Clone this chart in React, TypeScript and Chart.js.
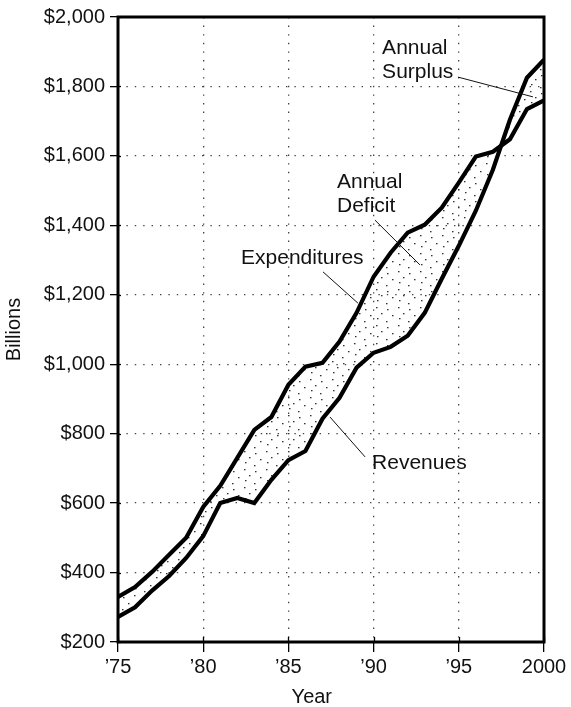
import React, { useEffect, useRef } from 'react';
import { Chart, registerables } from 'chart.js';

Chart.register(...registerables);

const years = [
  1975, 1976, 1977, 1978, 1979, 1980, 1981, 1982, 1983, 1984, 1985, 1986, 1987,
  1988, 1989, 1990, 1991, 1992, 1993, 1994, 1995, 1996, 1997, 1998, 1999, 2000,
];
const expenditures = [
  330, 358, 402, 451, 500, 589, 650, 730, 811, 848, 941, 993, 1004,
  1065, 1148, 1252, 1321, 1379, 1402, 1451, 1523, 1598, 1612, 1648, 1735, 1760,
];
const revenues = [
  272, 300, 348, 390, 442, 505, 600, 615, 600, 667, 724, 750, 843,
  903, 990, 1033, 1050, 1082, 1148, 1246, 1341, 1442, 1560, 1704, 1825, 1877,
];
const xTickValues = [1975, 1980, 1985, 1990, 1995, 2000];
const xTickLabels = ['\u201975', '\u201980', '\u201985', '\u201990', '\u201995', '2000'];
const yTickValues = [200, 400, 600, 800, 1000, 1200, 1400, 1600, 1800, 2000];
const yTickLabels = ['$200', '$400', '$600', '$800', '$1,000', '$1,200', '$1,400', '$1,600', '$1,800', '$2,000'];
const xTitle = 'Year';
const yTitle = 'Billions';

// annotation labels anchored in data coordinates (year, $ billions)
const annotationTexts = [['Annual', 'Surplus'], ['Annual', 'Deficit'], ['Expenditures'], ['Revenues']];
const annotationAnchors = [
  [1990.5, 1911],
  [1987.85, 1525],
  [1982.22, 1306],
  [1989.91, 715],
];
const annotationLeaders = [
  [1994.95, 1827, 1999.35, 1770],
  [1990.08, 1415, 1992.72, 1286],
  [1987.03, 1266, 1989.08, 1176],
  [1987.44, 848, 1989.5, 733],
];

const FONT = '"Liberation Sans", Arial, Helvetica, sans-serif';

function makePattern(): CanvasPattern | string {
  const pc = document.createElement('canvas');
  pc.width = 22;
  pc.height = 18;
  const p = pc.getContext('2d');
  if (!p) return 'rgba(0,0,0,0.1)';
  p.fillStyle = '#333';
  const dots = [
    [2, 1], [13, 3], [7, 7], [18, 9], [3, 12], [12, 15],
  ];
  dots.forEach(([x, y]) => p.fillRect(x, y, 1.5, 1.3));
  const pat = p.createPattern(pc, 'repeat');
  return pat || 'rgba(0,0,0,0.1)';
}

const overlayPlugin = {
  id: 'overlay',
  afterDraw(chart: any) {
    const { ctx, chartArea } = chart;
    const xs = chart.scales.x;
    const ys = chart.scales.y;
    ctx.save();
    // inward tick stubs
    ctx.strokeStyle = '#000';
    ctx.lineWidth = 1.3;
    xTickValues.forEach((v) => {
      const px = Math.round(xs.getPixelForValue(v)) + 0.5;
      ctx.beginPath();
      ctx.moveTo(px, chartArea.bottom - 5);
      ctx.lineTo(px, chartArea.bottom);
      ctx.stroke();
    });
    yTickValues.forEach((v) => {
      const py = Math.round(ys.getPixelForValue(v)) + 0.5;
      ctx.beginPath();
      ctx.moveTo(chartArea.left, py);
      ctx.lineTo(chartArea.left + 3, py);
      ctx.stroke();
    });
    // frame
    ctx.lineWidth = 3;
    ctx.strokeStyle = '#000';
    ctx.strokeRect(
      chartArea.left,
      chartArea.top,
      chartArea.right - chartArea.left,
      chartArea.bottom - chartArea.top
    );
    // annotations
    ctx.fillStyle = '#111';
    ctx.font = `21px ${FONT}`;
    ctx.textAlign = 'left';
    ctx.textBaseline = 'middle';
    annotationTexts.forEach((lines, i) => {
      const [ax, ay] = annotationAnchors[i];
      const px = xs.getPixelForValue(ax);
      const py = ys.getPixelForValue(ay);
      lines.forEach((t, j) => ctx.fillText(t, px, py + j * 24.5));
      const [x1, y1, x2, y2] = annotationLeaders[i];
      ctx.lineWidth = 1;
      ctx.strokeStyle = '#111';
      ctx.beginPath();
      ctx.moveTo(xs.getPixelForValue(x1), ys.getPixelForValue(y1));
      ctx.lineTo(xs.getPixelForValue(x2), ys.getPixelForValue(y2));
      ctx.stroke();
    });
    // x axis title
    ctx.font = `20px ${FONT}`;
    ctx.textAlign = 'center';
    ctx.fillText(xTitle, chartArea.left + (chartArea.right - chartArea.left) * 0.455, 697);
    ctx.restore();
  },
};

export default function App() {
  const ref = useRef<HTMLCanvasElement>(null);
  useEffect(() => {
    document.body.style.margin = '0';
    const canvas = ref.current;
    if (!canvas) return;
    Chart.defaults.font.family = FONT;
    Chart.defaults.color = '#111';
    const pattern = makePattern();
    const chart = new Chart(canvas, {
      type: 'line',
      data: {
        datasets: [
          {
            label: 'Expenditures',
            data: years.map((yr, i) => ({ x: yr, y: expenditures[i] })),
            borderColor: '#000',
            borderWidth: 4.2,
            pointRadius: 0,
            tension: 0,
            fill: false,
          },
          {
            label: 'Revenues',
            data: years.map((yr, i) => ({ x: yr, y: revenues[i] })),
            borderColor: '#000',
            borderWidth: 4.2,
            pointRadius: 0,
            tension: 0,
            fill: { target: 0 },
            backgroundColor: pattern as any,
          },
        ],
      },
      options: {
        responsive: false,
        animation: false,
        devicePixelRatio: 1,
        layout: { padding: { top: 17, right: 27, left: 0, bottom: 0 } },
        plugins: {
          legend: { display: false },
          tooltip: { enabled: false },
        },
        scales: {
          x: {
            type: 'linear',
            min: 1975,
            max: 2000,
            afterFit: (s: any) => {
              s.height = 65;
            },
            afterBuildTicks: (s: any) => {
              s.ticks = xTickValues.map((v) => ({ value: v }));
            },
            ticks: {
              font: { size: 20 },
              color: '#111',
              padding: 3,
              maxRotation: 0,
              autoSkip: false,
              callback: (v: any) => xTickLabels[xTickValues.indexOf(Number(v))] ?? '',
            },
            grid: {
              color: '#444',
              lineWidth: 1.3,
              tickLength: 10,
              tickColor: '#000',
              tickWidth: 1.3,
            },
            border: { display: false, dash: [1.4, 7.2] },
          },
          y: {
            type: 'linear',
            min: 200,
            max: 2000,
            afterFit: (s: any) => {
              s.width = 118;
            },
            afterBuildTicks: (s: any) => {
              s.ticks = yTickValues.map((v) => ({ value: v }));
            },
            ticks: {
              font: { size: 20 },
              color: '#111',
              padding: 5,
              autoSkip: false,
              callback: (v: any) => yTickLabels[yTickValues.indexOf(Number(v))] ?? '',
            },
            title: {
              display: true,
              text: yTitle,
              font: { size: 20 },
              color: '#111',
              padding: { top: 2, bottom: 0 },
            },
            grid: {
              color: '#444',
              lineWidth: 1.3,
              tickLength: 8,
              tickColor: '#000',
              tickWidth: 1.3,
            },
            border: { display: false, dash: [1.4, 7] },
          },
        },
      },
      plugins: [overlayPlugin],
    } as any);
    return () => chart.destroy();
  }, []);
  return (
    <div style={{ width: 571, height: 707 }}>
      <canvas ref={ref} width={571} height={707} style={{ display: 'block' }} />
    </div>
  );
}
